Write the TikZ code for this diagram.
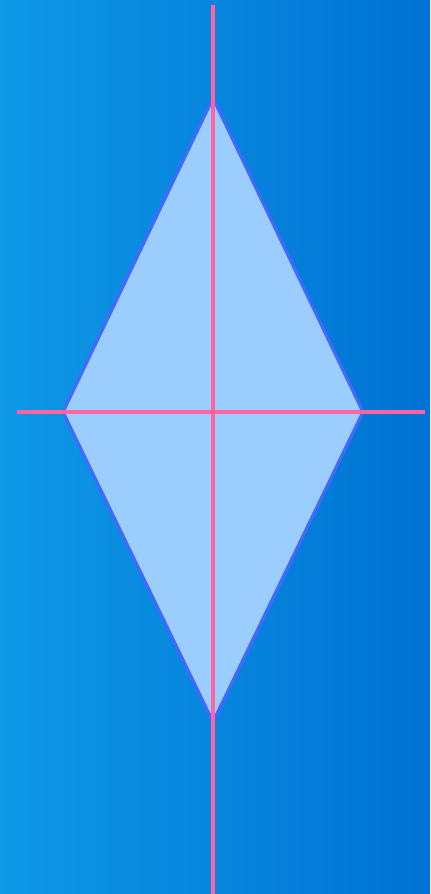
\documentclass[tikz,border=0pt]{standalone}
\usepackage{tikz}
\definecolor{bgleft}{RGB}{14,152,230}
\definecolor{bgright}{RGB}{0,114,212}
\definecolor{kitefill}{RGB}{155,205,255}
\definecolor{kiteedge}{RGB}{65,105,255}
\definecolor{axispink}{RGB}{255,100,160}

\begin{document}
\begin{tikzpicture}[x=0.01cm, y=-0.01cm]
    % Background
    \shade[left color=bgleft, right color=bgright] (0,0) rectangle (430,894);
    \useasboundingbox (0,0) rectangle (430,894);

    % Corners of the rhombus
    \coordinate (top) at (213,98);
    \coordinate (left) at (63,412);
    \coordinate (right) at (363,412);
    \coordinate (bottom) at (213,722);

    % Rhombus
    \fill[kitefill] (top) -- (right) -- (bottom) -- (left) -- cycle;
    \draw[kiteedge, line width=0.9pt, line join=miter] (top) -- (right) -- (bottom) -- (left) -- cycle;

    % Axes
    \coordinate (vtop) at (213,5);
    \coordinate (vbot) at (213,894);
    \coordinate (hleft) at (17,412);
    \coordinate (hright) at (425,412);
    \draw[axispink, line width=1.15pt] (vtop) -- (vbot);
    \draw[axispink, line width=1.15pt] (hleft) -- (hright);
\end{tikzpicture}
\end{document}
